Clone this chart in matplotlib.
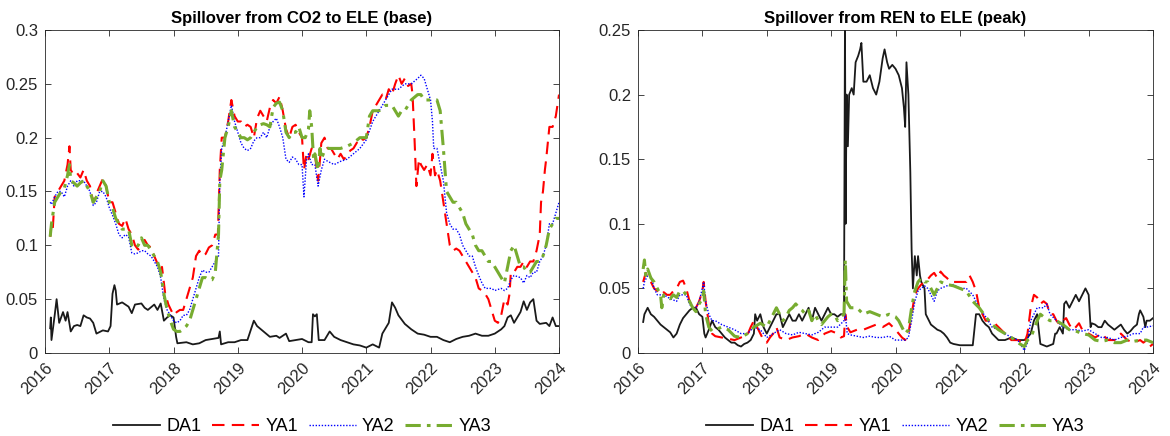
import numpy as np
import matplotlib
matplotlib.use("Agg")
import matplotlib.pyplot as plt

plt.rcParams['font.family'] = ['Liberation Sans', 'DejaVu Sans']

series_names = ["DA1", "YA1", "YA2", "YA3"]
year_ticks = [2016, 2017, 2018, 2019, 2020, 2021, 2022, 2023, 2024]

# ---- left panel: CO2 -> ELE (base), pairs of (year, spillover)
base_da1 = [
    [2016.08, 0.023], [2016.09, 0.033], [2016.1, 0.012], [2016.15, 0.035], [2016.18, 0.05],
    [2016.22, 0.028], [2016.28, 0.038], [2016.32, 0.03], [2016.35, 0.038], [2016.4, 0.02],
    [2016.45, 0.025], [2016.5, 0.026], [2016.55, 0.025], [2016.6, 0.035], [2016.65, 0.033],
    [2016.7, 0.032], [2016.75, 0.028], [2016.8, 0.018], [2016.9, 0.021], [2016.98, 0.02],
    [2017.02, 0.025], [2017.05, 0.055], [2017.08, 0.063], [2017.1, 0.058], [2017.12, 0.045],
    [2017.2, 0.047], [2017.3, 0.043], [2017.35, 0.037], [2017.4, 0.045], [2017.5, 0.046],
    [2017.55, 0.042], [2017.6, 0.04], [2017.7, 0.045], [2017.75, 0.04], [2017.8, 0.046],
    [2017.85, 0.03], [2017.9, 0.033], [2017.95, 0.035], [2018.0, 0.033], [2018.04, 0.015],
    [2018.06, 0.009], [2018.2, 0.01], [2018.3, 0.008], [2018.4, 0.009], [2018.5, 0.012],
    [2018.6, 0.013], [2018.7, 0.014], [2018.72, 0.02], [2018.74, 0.008], [2018.85, 0.01],
    [2018.95, 0.01], [2019.05, 0.012], [2019.15, 0.012], [2019.25, 0.03], [2019.3, 0.025],
    [2019.4, 0.02], [2019.5, 0.015], [2019.6, 0.016], [2019.65, 0.014], [2019.75, 0.018],
    [2019.8, 0.011], [2019.9, 0.012], [2020.0, 0.013], [2020.1, 0.01], [2020.15, 0.01],
    [2020.17, 0.036], [2020.2, 0.034], [2020.23, 0.036], [2020.26, 0.012], [2020.35, 0.012],
    [2020.43, 0.02], [2020.5, 0.015], [2020.6, 0.012], [2020.7, 0.01], [2020.8, 0.008],
    [2020.9, 0.007], [2021.0, 0.005], [2021.1, 0.008], [2021.2, 0.005], [2021.25, 0.018],
    [2021.35, 0.028], [2021.4, 0.047], [2021.45, 0.042], [2021.5, 0.035], [2021.6, 0.027],
    [2021.7, 0.022], [2021.8, 0.018], [2021.9, 0.017], [2022.0, 0.015], [2022.1, 0.015],
    [2022.2, 0.012], [2022.3, 0.01], [2022.4, 0.013], [2022.5, 0.015], [2022.6, 0.016],
    [2022.7, 0.018], [2022.8, 0.016], [2022.9, 0.016], [2023.0, 0.018], [2023.1, 0.022],
    [2023.15, 0.025], [2023.2, 0.033], [2023.25, 0.035], [2023.3, 0.028], [2023.4, 0.038],
    [2023.45, 0.048], [2023.5, 0.04], [2023.55, 0.047], [2023.6, 0.05], [2023.65, 0.03],
    [2023.7, 0.027], [2023.8, 0.028], [2023.85, 0.025], [2023.9, 0.033], [2023.95, 0.025],
    [2024.0, 0.025],
]
base_ya1 = [
    [2016.08, 0.108], [2016.1, 0.12], [2016.12, 0.115], [2016.15, 0.145], [2016.2, 0.15],
    [2016.25, 0.155], [2016.3, 0.16], [2016.35, 0.175], [2016.38, 0.192], [2016.4, 0.17],
    [2016.45, 0.165], [2016.5, 0.167], [2016.55, 0.163], [2016.6, 0.17], [2016.65, 0.16],
    [2016.7, 0.155], [2016.75, 0.14], [2016.8, 0.148], [2016.85, 0.155], [2016.9, 0.162],
    [2016.95, 0.155], [2017.0, 0.14], [2017.05, 0.14], [2017.1, 0.13], [2017.15, 0.12],
    [2017.2, 0.118], [2017.25, 0.125], [2017.3, 0.115], [2017.35, 0.11], [2017.4, 0.1],
    [2017.45, 0.096], [2017.5, 0.1], [2017.55, 0.105], [2017.6, 0.1], [2017.65, 0.098],
    [2017.7, 0.09], [2017.75, 0.083], [2017.8, 0.075], [2017.82, 0.08], [2017.87, 0.055],
    [2017.92, 0.045], [2017.96, 0.04], [2018.0, 0.035], [2018.05, 0.038], [2018.1, 0.04],
    [2018.15, 0.04], [2018.2, 0.05], [2018.25, 0.06], [2018.3, 0.07], [2018.35, 0.09],
    [2018.4, 0.095], [2018.45, 0.09], [2018.5, 0.092], [2018.55, 0.098], [2018.6, 0.1],
    [2018.65, 0.11], [2018.69, 0.11], [2018.72, 0.17], [2018.75, 0.2], [2018.8, 0.2],
    [2018.85, 0.215], [2018.9, 0.235], [2018.95, 0.22], [2019.0, 0.215], [2019.05, 0.215],
    [2019.1, 0.21], [2019.15, 0.212], [2019.2, 0.21], [2019.25, 0.2], [2019.3, 0.218],
    [2019.35, 0.225], [2019.4, 0.22], [2019.45, 0.215], [2019.5, 0.228], [2019.55, 0.235],
    [2019.6, 0.232], [2019.65, 0.238], [2019.7, 0.225], [2019.75, 0.208], [2019.8, 0.2],
    [2019.85, 0.21], [2019.9, 0.212], [2019.95, 0.205], [2020.0, 0.2], [2020.03, 0.17],
    [2020.07, 0.185], [2020.1, 0.18], [2020.15, 0.19], [2020.2, 0.185], [2020.23, 0.17],
    [2020.25, 0.16], [2020.28, 0.18], [2020.3, 0.195], [2020.35, 0.2], [2020.4, 0.19],
    [2020.45, 0.19], [2020.5, 0.185], [2020.55, 0.18], [2020.6, 0.185], [2020.65, 0.18],
    [2020.7, 0.183], [2020.75, 0.188], [2020.8, 0.19], [2020.85, 0.195], [2020.9, 0.2],
    [2020.95, 0.198], [2021.0, 0.2], [2021.05, 0.21], [2021.1, 0.225], [2021.15, 0.23],
    [2021.2, 0.235], [2021.25, 0.24], [2021.3, 0.235], [2021.35, 0.245], [2021.4, 0.24],
    [2021.45, 0.25], [2021.5, 0.258], [2021.55, 0.25], [2021.6, 0.255], [2021.65, 0.248],
    [2021.7, 0.25], [2021.72, 0.24], [2021.75, 0.2], [2021.78, 0.155], [2021.82, 0.18],
    [2021.85, 0.175], [2021.9, 0.17], [2021.95, 0.175], [2022.0, 0.165], [2022.03, 0.185],
    [2022.07, 0.165], [2022.1, 0.17], [2022.15, 0.16], [2022.2, 0.14], [2022.25, 0.12],
    [2022.3, 0.1], [2022.35, 0.095], [2022.4, 0.097], [2022.45, 0.095], [2022.5, 0.09],
    [2022.55, 0.085], [2022.6, 0.08], [2022.65, 0.075], [2022.7, 0.07], [2022.75, 0.06],
    [2022.8, 0.058], [2022.85, 0.055], [2022.9, 0.05], [2022.95, 0.04], [2023.0, 0.03],
    [2023.05, 0.028], [2023.1, 0.035], [2023.15, 0.05], [2023.2, 0.045], [2023.23, 0.055],
    [2023.25, 0.075], [2023.3, 0.075], [2023.35, 0.08], [2023.4, 0.08], [2023.45, 0.085],
    [2023.5, 0.08], [2023.55, 0.085], [2023.6, 0.085], [2023.65, 0.095], [2023.7, 0.11],
    [2023.72, 0.14], [2023.75, 0.15], [2023.78, 0.17], [2023.8, 0.18], [2023.85, 0.21],
    [2023.9, 0.21], [2023.95, 0.22], [2024.0, 0.24],
]
base_ya2 = [
    [2016.08, 0.14], [2016.1, 0.138], [2016.15, 0.145], [2016.2, 0.15], [2016.25, 0.15],
    [2016.3, 0.145], [2016.35, 0.155], [2016.4, 0.16], [2016.45, 0.155], [2016.5, 0.16],
    [2016.55, 0.16], [2016.6, 0.16], [2016.65, 0.155], [2016.7, 0.15], [2016.75, 0.137],
    [2016.8, 0.14], [2016.85, 0.15], [2016.9, 0.15], [2016.95, 0.145], [2017.0, 0.135],
    [2017.05, 0.128], [2017.1, 0.12], [2017.15, 0.11], [2017.2, 0.107], [2017.25, 0.11],
    [2017.3, 0.108], [2017.35, 0.093], [2017.4, 0.092], [2017.45, 0.093], [2017.5, 0.095],
    [2017.55, 0.095], [2017.6, 0.092], [2017.65, 0.09], [2017.7, 0.085], [2017.75, 0.08],
    [2017.8, 0.07], [2017.85, 0.05], [2017.9, 0.04], [2017.95, 0.035], [2018.0, 0.03],
    [2018.05, 0.028], [2018.1, 0.03], [2018.15, 0.035], [2018.2, 0.035], [2018.25, 0.04],
    [2018.3, 0.05], [2018.35, 0.06], [2018.4, 0.07], [2018.45, 0.077], [2018.5, 0.075],
    [2018.55, 0.075], [2018.6, 0.08], [2018.65, 0.085], [2018.7, 0.09], [2018.72, 0.16],
    [2018.75, 0.19], [2018.8, 0.2], [2018.85, 0.215], [2018.9, 0.23], [2018.95, 0.215],
    [2019.0, 0.205], [2019.05, 0.195], [2019.1, 0.19], [2019.15, 0.188], [2019.2, 0.19],
    [2019.25, 0.197], [2019.3, 0.2], [2019.35, 0.2], [2019.4, 0.205], [2019.45, 0.2],
    [2019.5, 0.21], [2019.55, 0.215], [2019.6, 0.218], [2019.65, 0.21], [2019.7, 0.2],
    [2019.75, 0.18], [2019.8, 0.177], [2019.85, 0.182], [2019.9, 0.18], [2019.95, 0.175],
    [2020.0, 0.175], [2020.03, 0.145], [2020.07, 0.18], [2020.1, 0.185], [2020.15, 0.175],
    [2020.2, 0.175], [2020.25, 0.155], [2020.3, 0.17], [2020.35, 0.18], [2020.4, 0.178],
    [2020.5, 0.175], [2020.6, 0.178], [2020.7, 0.18], [2020.8, 0.185], [2020.9, 0.19],
    [2021.0, 0.198], [2021.1, 0.215], [2021.2, 0.225], [2021.3, 0.235], [2021.4, 0.245],
    [2021.5, 0.245], [2021.6, 0.25], [2021.7, 0.25], [2021.8, 0.255], [2021.85, 0.258],
    [2021.9, 0.255], [2021.95, 0.245], [2022.0, 0.235], [2022.03, 0.215], [2022.05, 0.19],
    [2022.1, 0.19], [2022.15, 0.175], [2022.2, 0.16], [2022.25, 0.13], [2022.3, 0.12],
    [2022.35, 0.115], [2022.4, 0.115], [2022.45, 0.11], [2022.5, 0.1], [2022.55, 0.095],
    [2022.6, 0.09], [2022.65, 0.09], [2022.7, 0.08], [2022.75, 0.072], [2022.8, 0.065],
    [2022.85, 0.06], [2022.9, 0.06], [2022.95, 0.06], [2023.0, 0.058], [2023.1, 0.06],
    [2023.15, 0.058], [2023.2, 0.06], [2023.25, 0.068], [2023.3, 0.072], [2023.4, 0.07],
    [2023.45, 0.065], [2023.5, 0.072], [2023.55, 0.07], [2023.6, 0.075], [2023.65, 0.075],
    [2023.7, 0.085], [2023.75, 0.09], [2023.8, 0.1], [2023.85, 0.12], [2023.9, 0.12],
    [2023.95, 0.13], [2024.0, 0.14],
]
base_ya3 = [
    [2016.08, 0.108], [2016.1, 0.12], [2016.15, 0.14], [2016.2, 0.145], [2016.25, 0.15],
    [2016.3, 0.153], [2016.35, 0.165], [2016.38, 0.175], [2016.4, 0.16], [2016.45, 0.158],
    [2016.5, 0.155], [2016.55, 0.158], [2016.6, 0.16], [2016.65, 0.155], [2016.7, 0.15],
    [2016.75, 0.14], [2016.8, 0.145], [2016.85, 0.15], [2016.9, 0.16], [2016.95, 0.155],
    [2017.0, 0.14], [2017.05, 0.135], [2017.1, 0.125], [2017.15, 0.12], [2017.2, 0.115],
    [2017.25, 0.115], [2017.3, 0.115], [2017.35, 0.1], [2017.4, 0.097], [2017.45, 0.1],
    [2017.5, 0.107], [2017.55, 0.1], [2017.6, 0.1], [2017.65, 0.095], [2017.7, 0.09],
    [2017.75, 0.085], [2017.8, 0.075], [2017.85, 0.055], [2017.9, 0.04], [2017.95, 0.03],
    [2018.0, 0.022], [2018.05, 0.02], [2018.1, 0.02], [2018.15, 0.022], [2018.2, 0.025],
    [2018.25, 0.03], [2018.3, 0.04], [2018.35, 0.05], [2018.4, 0.06], [2018.45, 0.07],
    [2018.5, 0.07], [2018.55, 0.068], [2018.6, 0.068], [2018.65, 0.075], [2018.7, 0.11],
    [2018.72, 0.16], [2018.75, 0.17], [2018.8, 0.2], [2018.85, 0.21], [2018.9, 0.225],
    [2018.95, 0.21], [2019.0, 0.205], [2019.05, 0.2], [2019.1, 0.2], [2019.15, 0.198],
    [2019.2, 0.2], [2019.25, 0.205], [2019.3, 0.21], [2019.35, 0.212], [2019.4, 0.213],
    [2019.45, 0.212], [2019.5, 0.21], [2019.55, 0.228], [2019.6, 0.232], [2019.65, 0.233],
    [2019.7, 0.225], [2019.75, 0.205], [2019.8, 0.2], [2019.85, 0.205], [2019.9, 0.205],
    [2019.95, 0.21], [2020.0, 0.2], [2020.05, 0.2], [2020.1, 0.208], [2020.12, 0.225],
    [2020.15, 0.21], [2020.18, 0.18], [2020.2, 0.185], [2020.25, 0.17], [2020.28, 0.19],
    [2020.3, 0.18], [2020.35, 0.188], [2020.4, 0.19], [2020.5, 0.19], [2020.6, 0.19],
    [2020.7, 0.192], [2020.8, 0.195], [2020.9, 0.2], [2021.0, 0.2], [2021.05, 0.22],
    [2021.1, 0.225], [2021.2, 0.225], [2021.3, 0.23], [2021.4, 0.23], [2021.5, 0.22],
    [2021.55, 0.225], [2021.6, 0.225], [2021.7, 0.235], [2021.8, 0.24], [2021.85, 0.24],
    [2021.9, 0.235], [2022.0, 0.235], [2022.1, 0.235], [2022.15, 0.225], [2022.2, 0.19],
    [2022.25, 0.15], [2022.3, 0.145], [2022.35, 0.14], [2022.4, 0.14], [2022.45, 0.135],
    [2022.5, 0.13], [2022.55, 0.12], [2022.6, 0.115], [2022.65, 0.11], [2022.7, 0.1],
    [2022.75, 0.095], [2022.8, 0.095], [2022.85, 0.09], [2022.9, 0.085], [2022.95, 0.085],
    [2023.0, 0.08], [2023.1, 0.07], [2023.15, 0.065], [2023.2, 0.08], [2023.25, 0.095],
    [2023.3, 0.1], [2023.35, 0.09], [2023.4, 0.08], [2023.45, 0.08], [2023.5, 0.075],
    [2023.55, 0.075], [2023.6, 0.08], [2023.65, 0.085], [2023.7, 0.085], [2023.75, 0.09],
    [2023.8, 0.1], [2023.85, 0.115], [2023.9, 0.12], [2023.95, 0.125], [2024.0, 0.125],
]

# ---- right panel: REN -> ELE (peak)
peak_da1 = [
    [2016.08, 0.024], [2016.1, 0.03], [2016.15, 0.035], [2016.2, 0.03], [2016.25, 0.028],
    [2016.3, 0.025], [2016.35, 0.022], [2016.4, 0.02], [2016.45, 0.018], [2016.5, 0.016],
    [2016.55, 0.012], [2016.6, 0.015], [2016.65, 0.022], [2016.7, 0.027], [2016.75, 0.03],
    [2016.8, 0.033], [2016.85, 0.035], [2016.9, 0.035], [2016.95, 0.03], [2017.0, 0.028],
    [2017.03, 0.015], [2017.05, 0.012], [2017.1, 0.018], [2017.15, 0.025], [2017.2, 0.02],
    [2017.25, 0.018], [2017.3, 0.015], [2017.35, 0.012], [2017.4, 0.01], [2017.45, 0.008],
    [2017.5, 0.008], [2017.55, 0.006], [2017.6, 0.005], [2017.65, 0.007], [2017.7, 0.008],
    [2017.75, 0.01], [2017.8, 0.015], [2017.82, 0.03], [2017.85, 0.025], [2017.9, 0.03],
    [2017.95, 0.02], [2018.0, 0.015], [2018.05, 0.02], [2018.1, 0.025], [2018.15, 0.03],
    [2018.2, 0.03], [2018.25, 0.02], [2018.3, 0.025], [2018.35, 0.03], [2018.4, 0.025],
    [2018.45, 0.025], [2018.5, 0.03], [2018.55, 0.025], [2018.6, 0.03], [2018.65, 0.035],
    [2018.7, 0.025], [2018.75, 0.035], [2018.8, 0.03], [2018.85, 0.025], [2018.9, 0.03],
    [2018.95, 0.035], [2019.0, 0.03], [2019.05, 0.03], [2019.1, 0.028], [2019.15, 0.03],
    [2019.2, 0.03], [2019.215, 0.26], [2019.225, 0.1], [2019.24, 0.2], [2019.26, 0.16],
    [2019.28, 0.2], [2019.32, 0.205], [2019.35, 0.2], [2019.38, 0.225], [2019.42, 0.23],
    [2019.45, 0.235], [2019.47, 0.24], [2019.5, 0.21], [2019.55, 0.21], [2019.6, 0.215],
    [2019.65, 0.205], [2019.7, 0.2], [2019.75, 0.21], [2019.8, 0.228], [2019.83, 0.235],
    [2019.87, 0.225], [2019.9, 0.22], [2019.95, 0.223], [2020.0, 0.22], [2020.05, 0.215],
    [2020.1, 0.205], [2020.13, 0.19], [2020.15, 0.175], [2020.17, 0.225], [2020.2, 0.2],
    [2020.23, 0.14], [2020.25, 0.08], [2020.27, 0.05], [2020.3, 0.075], [2020.33, 0.06],
    [2020.35, 0.075], [2020.38, 0.06], [2020.4, 0.055], [2020.45, 0.05], [2020.47, 0.03],
    [2020.5, 0.027], [2020.55, 0.022], [2020.6, 0.02], [2020.65, 0.018], [2020.7, 0.017],
    [2020.75, 0.015], [2020.8, 0.012], [2020.85, 0.008], [2020.9, 0.007], [2021.0, 0.006],
    [2021.1, 0.006], [2021.2, 0.006], [2021.23, 0.02], [2021.25, 0.03], [2021.3, 0.03],
    [2021.35, 0.025], [2021.4, 0.022], [2021.45, 0.02], [2021.5, 0.015], [2021.6, 0.01],
    [2021.7, 0.01], [2021.8, 0.012], [2021.9, 0.01], [2022.0, 0.01], [2022.05, 0.012],
    [2022.1, 0.015], [2022.15, 0.025], [2022.2, 0.03], [2022.22, 0.02], [2022.25, 0.007],
    [2022.3, 0.006], [2022.35, 0.005], [2022.4, 0.006], [2022.45, 0.007], [2022.48, 0.015],
    [2022.5, 0.015], [2022.55, 0.02], [2022.6, 0.015], [2022.62, 0.038], [2022.65, 0.04],
    [2022.7, 0.035], [2022.75, 0.04], [2022.8, 0.045], [2022.85, 0.04], [2022.9, 0.045],
    [2022.95, 0.05], [2023.0, 0.045], [2023.03, 0.02], [2023.05, 0.023], [2023.1, 0.022],
    [2023.15, 0.02], [2023.2, 0.02], [2023.25, 0.025], [2023.3, 0.022], [2023.35, 0.02],
    [2023.4, 0.018], [2023.45, 0.02], [2023.5, 0.022], [2023.55, 0.018], [2023.6, 0.015],
    [2023.65, 0.017], [2023.7, 0.02], [2023.75, 0.022], [2023.78, 0.03], [2023.8, 0.033],
    [2023.85, 0.028], [2023.88, 0.02], [2023.9, 0.025], [2023.95, 0.025], [2024.0, 0.027],
]
peak_ya1 = [
    [2016.08, 0.055], [2016.12, 0.062], [2016.15, 0.058], [2016.2, 0.055], [2016.25, 0.05],
    [2016.3, 0.048], [2016.35, 0.045], [2016.4, 0.047], [2016.45, 0.045], [2016.5, 0.045],
    [2016.55, 0.048], [2016.6, 0.05], [2016.65, 0.055], [2016.7, 0.056], [2016.75, 0.05],
    [2016.8, 0.04], [2016.85, 0.036], [2016.9, 0.035], [2016.95, 0.04], [2017.0, 0.048],
    [2017.02, 0.055], [2017.05, 0.04], [2017.08, 0.03], [2017.1, 0.022], [2017.15, 0.015],
    [2017.2, 0.013], [2017.3, 0.012], [2017.4, 0.011], [2017.5, 0.01], [2017.6, 0.012],
    [2017.7, 0.014], [2017.75, 0.02], [2017.8, 0.025], [2017.85, 0.02], [2017.9, 0.015],
    [2017.95, 0.01], [2018.0, 0.008], [2018.05, 0.012], [2018.1, 0.015], [2018.15, 0.02],
    [2018.2, 0.012], [2018.3, 0.01], [2018.4, 0.012], [2018.5, 0.013], [2018.6, 0.015],
    [2018.7, 0.012], [2018.8, 0.01], [2018.9, 0.015], [2019.0, 0.017], [2019.1, 0.015],
    [2019.15, 0.012], [2019.2, 0.013], [2019.22, 0.03], [2019.25, 0.02], [2019.3, 0.016],
    [2019.4, 0.018], [2019.5, 0.018], [2019.6, 0.02], [2019.7, 0.022], [2019.8, 0.02],
    [2019.9, 0.023], [2020.0, 0.018], [2020.05, 0.015], [2020.1, 0.012], [2020.15, 0.01],
    [2020.2, 0.015], [2020.25, 0.03], [2020.3, 0.045], [2020.35, 0.05], [2020.4, 0.053],
    [2020.45, 0.055], [2020.5, 0.057], [2020.55, 0.06], [2020.6, 0.062], [2020.65, 0.058],
    [2020.7, 0.063], [2020.75, 0.06], [2020.8, 0.058], [2020.85, 0.055], [2020.9, 0.055],
    [2021.0, 0.055], [2021.1, 0.055], [2021.15, 0.06], [2021.2, 0.055], [2021.25, 0.048],
    [2021.3, 0.035], [2021.35, 0.03], [2021.4, 0.025], [2021.5, 0.025], [2021.6, 0.02],
    [2021.7, 0.015], [2021.8, 0.01], [2021.9, 0.01], [2022.0, 0.007], [2022.05, 0.015],
    [2022.1, 0.035], [2022.15, 0.045], [2022.2, 0.043], [2022.25, 0.038], [2022.3, 0.04],
    [2022.35, 0.038], [2022.4, 0.03], [2022.45, 0.03], [2022.5, 0.025], [2022.55, 0.022],
    [2022.6, 0.025], [2022.65, 0.027], [2022.7, 0.022], [2022.75, 0.018], [2022.8, 0.02],
    [2022.85, 0.023], [2022.9, 0.018], [2023.0, 0.015], [2023.1, 0.012], [2023.2, 0.015],
    [2023.3, 0.01], [2023.4, 0.01], [2023.5, 0.015], [2023.6, 0.01], [2023.7, 0.008],
    [2023.8, 0.01], [2023.85, 0.008], [2023.9, 0.01], [2023.95, 0.005], [2024.0, 0.007],
]
peak_ya2 = [
    [2016.08, 0.05], [2016.1, 0.055], [2016.15, 0.06], [2016.2, 0.06], [2016.25, 0.05],
    [2016.3, 0.045], [2016.35, 0.045], [2016.4, 0.045], [2016.5, 0.042], [2016.6, 0.04],
    [2016.65, 0.045], [2016.7, 0.045], [2016.75, 0.045], [2016.8, 0.038], [2016.85, 0.034],
    [2016.9, 0.035], [2016.95, 0.04], [2017.0, 0.05], [2017.02, 0.055], [2017.05, 0.04],
    [2017.1, 0.03], [2017.15, 0.025], [2017.2, 0.025], [2017.3, 0.022], [2017.4, 0.02],
    [2017.5, 0.018], [2017.6, 0.015], [2017.7, 0.015], [2017.8, 0.02], [2017.9, 0.018],
    [2018.0, 0.012], [2018.1, 0.015], [2018.2, 0.018], [2018.3, 0.015], [2018.4, 0.014],
    [2018.5, 0.016], [2018.6, 0.015], [2018.7, 0.014], [2018.8, 0.016], [2018.9, 0.02],
    [2019.0, 0.02], [2019.1, 0.02], [2019.2, 0.025], [2019.22, 0.03], [2019.25, 0.015],
    [2019.3, 0.014], [2019.4, 0.013], [2019.5, 0.012], [2019.6, 0.013], [2019.7, 0.012],
    [2019.8, 0.012], [2019.9, 0.013], [2020.0, 0.01], [2020.1, 0.01], [2020.15, 0.01],
    [2020.2, 0.012], [2020.25, 0.025], [2020.3, 0.04], [2020.35, 0.048], [2020.4, 0.05],
    [2020.45, 0.052], [2020.5, 0.05], [2020.55, 0.045], [2020.6, 0.04], [2020.65, 0.048],
    [2020.7, 0.05], [2020.8, 0.052], [2020.9, 0.053], [2021.0, 0.05], [2021.1, 0.05],
    [2021.2, 0.045], [2021.3, 0.035], [2021.4, 0.028], [2021.5, 0.02], [2021.6, 0.018],
    [2021.7, 0.015], [2021.8, 0.012], [2021.9, 0.01], [2022.0, 0.002], [2022.05, 0.008],
    [2022.1, 0.025], [2022.15, 0.03], [2022.2, 0.035], [2022.3, 0.035], [2022.35, 0.038],
    [2022.4, 0.03], [2022.5, 0.025], [2022.6, 0.02], [2022.7, 0.018], [2022.8, 0.018],
    [2022.9, 0.017], [2023.0, 0.018], [2023.1, 0.015], [2023.2, 0.012], [2023.3, 0.012],
    [2023.4, 0.01], [2023.5, 0.012], [2023.6, 0.013], [2023.7, 0.015], [2023.8, 0.015],
    [2023.85, 0.02], [2023.9, 0.02], [2024.0, 0.021],
]
peak_ya3 = [
    [2016.08, 0.065], [2016.1, 0.072], [2016.12, 0.06], [2016.15, 0.065], [2016.2, 0.058],
    [2016.25, 0.055], [2016.3, 0.05], [2016.35, 0.045], [2016.37, 0.035], [2016.4, 0.045],
    [2016.45, 0.043], [2016.5, 0.042], [2016.55, 0.045], [2016.6, 0.043], [2016.65, 0.048],
    [2016.7, 0.048], [2016.75, 0.045], [2016.8, 0.04], [2016.85, 0.035], [2016.9, 0.032],
    [2016.95, 0.038], [2017.0, 0.042], [2017.02, 0.048], [2017.05, 0.03], [2017.1, 0.02],
    [2017.15, 0.017], [2017.2, 0.018], [2017.3, 0.02], [2017.4, 0.018], [2017.5, 0.013],
    [2017.6, 0.012], [2017.7, 0.015], [2017.8, 0.02], [2017.9, 0.023], [2018.0, 0.02],
    [2018.05, 0.025], [2018.1, 0.03], [2018.15, 0.035], [2018.2, 0.03], [2018.25, 0.025],
    [2018.3, 0.028], [2018.35, 0.033], [2018.4, 0.035], [2018.45, 0.038], [2018.5, 0.035],
    [2018.55, 0.033], [2018.6, 0.03], [2018.65, 0.033], [2018.7, 0.025], [2018.75, 0.03],
    [2018.8, 0.025], [2018.85, 0.022], [2018.9, 0.025], [2018.95, 0.028], [2019.0, 0.03],
    [2019.05, 0.03], [2019.1, 0.025], [2019.15, 0.028], [2019.2, 0.03], [2019.22, 0.072],
    [2019.24, 0.04], [2019.3, 0.035], [2019.4, 0.035], [2019.5, 0.03], [2019.6, 0.032],
    [2019.7, 0.03], [2019.8, 0.028], [2019.9, 0.03], [2020.0, 0.028], [2020.05, 0.025],
    [2020.1, 0.02], [2020.15, 0.015], [2020.2, 0.018], [2020.25, 0.035], [2020.3, 0.048],
    [2020.35, 0.055], [2020.4, 0.058], [2020.45, 0.055], [2020.5, 0.055], [2020.55, 0.05],
    [2020.6, 0.045], [2020.65, 0.05], [2020.7, 0.055], [2020.8, 0.053], [2020.9, 0.052],
    [2021.0, 0.05], [2021.1, 0.048], [2021.2, 0.04], [2021.3, 0.035], [2021.4, 0.028],
    [2021.5, 0.022], [2021.6, 0.018], [2021.7, 0.015], [2021.8, 0.012], [2021.9, 0.008],
    [2022.0, 0.005], [2022.05, 0.01], [2022.1, 0.012], [2022.15, 0.018], [2022.2, 0.025],
    [2022.25, 0.03], [2022.3, 0.028], [2022.4, 0.025], [2022.5, 0.025], [2022.6, 0.022],
    [2022.7, 0.018], [2022.8, 0.017], [2022.9, 0.015], [2023.0, 0.014], [2023.1, 0.01],
    [2023.2, 0.009], [2023.3, 0.01], [2023.4, 0.008], [2023.5, 0.008], [2023.6, 0.01],
    [2023.7, 0.009], [2023.8, 0.01], [2023.9, 0.01], [2024.0, 0.008],
]

styles = [
    dict(color='#1a1a1a', linestyle='-', linewidth=1.3),
    dict(color='#ff0000', linestyle=(0, (6, 3.5)), linewidth=1.5),
    dict(color='#0000ff', linestyle=(0, (1, 1.2)), linewidth=1.0),
    dict(color='#77ac30', linestyle=(0, (5, 2, 1.2, 2)), linewidth=2.2),
]

panels = [
    ("Spillover from CO2 to ELE (base)", [base_da1, base_ya1, base_ya2, base_ya3],
     0.3, [0, 0.05, 0.1, 0.15, 0.2, 0.25, 0.3]),
    ("Spillover from REN to ELE (peak)", [peak_da1, peak_ya1, peak_ya2, peak_ya3],
     0.25, [0, 0.05, 0.1, 0.15, 0.2, 0.25]),
]

fig = plt.figure(figsize=(11.7, 4.36), dpi=100)
ax_rects = [[0.0385, 0.1904, 0.4393, 0.7408], [0.5453, 0.1904, 0.4402, 0.7408]]

for rect, (title, data, ymax, yticks) in zip(ax_rects, panels):
    ax = fig.add_axes(rect)
    for name, ser, st in zip(series_names, data, styles):
        arr = np.array(ser)
        ax.plot(arr[:, 0], arr[:, 1], label=name, **st)
    ax.set_xlim(2016, 2024)
    ax.set_ylim(0, ymax)
    ax.set_xticks(year_ticks)
    ax.set_xticklabels([str(y) for y in year_ticks], rotation=45, ha='right',
                       rotation_mode='anchor', fontsize=12)
    ax.set_yticks(yticks)
    ax.set_yticklabels(['%g' % v for v in yticks], fontsize=12)
    ax.tick_params(direction='in', top=True, right=True, length=4, width=0.6,
                   colors='#262626', pad=5)
    for sp in ax.spines.values():
        sp.set_linewidth(0.6)
        sp.set_color('#262626')
    ax.set_title(title, fontsize=12, fontweight='bold', pad=5)
    ax.legend(loc='center', bbox_to_anchor=(0.5, -0.229), ncol=4, frameon=False,
              fontsize=13, handlelength=2.6, columnspacing=0.6, handletextpad=0.35,
              borderpad=0.1, borderaxespad=0)

fig.savefig("out.png", dpi=100)
